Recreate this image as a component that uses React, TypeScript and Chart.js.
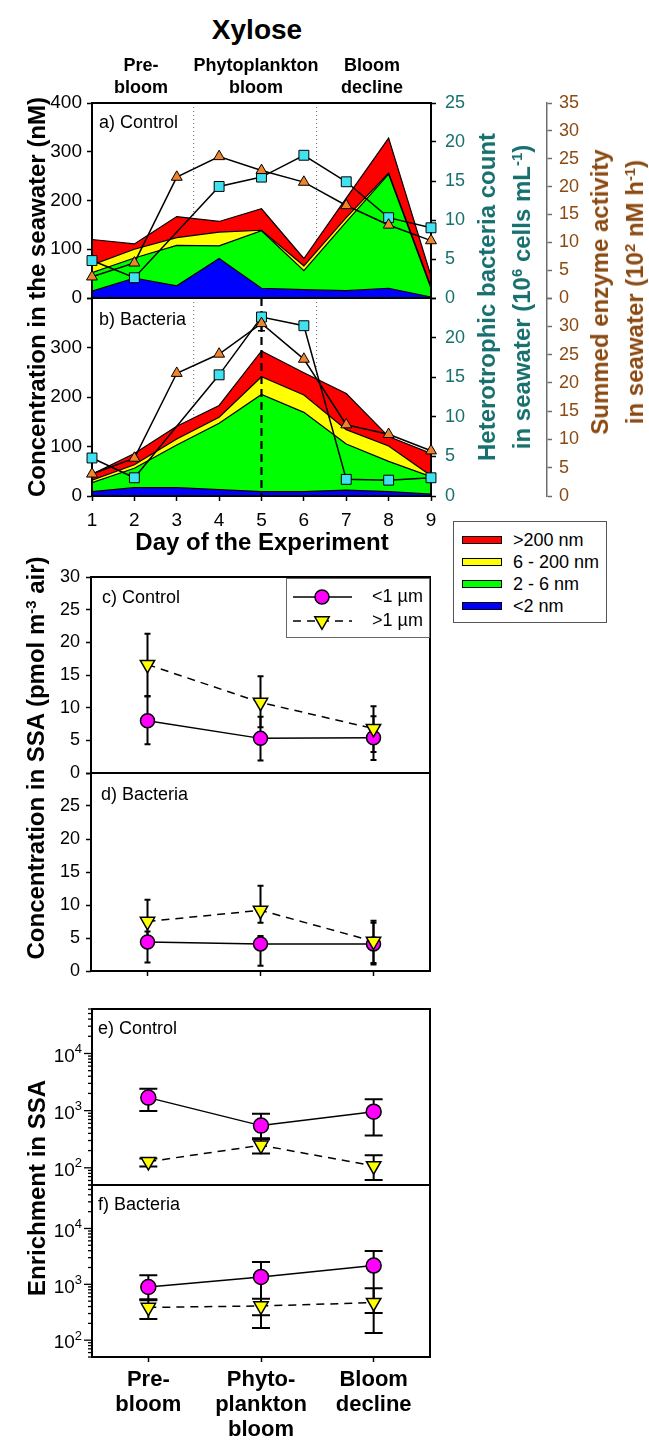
import React, { useEffect, useRef } from 'react';
import { Chart, registerables } from 'chart.js';

Chart.register(...registerables);

const FONT = '"Liberation Sans", Arial, Helvetica, sans-serif';

// ---------------- data: seawater panels (a, b) ----------------
const days = [1, 2, 3, 4, 5, 6, 7, 8, 9];
const phaseBoundaryDays = [3.4, 6.3];
const peakDay = 5;

const ctrlLt2nm = [14, 41, 25, 81, 20, 17, 15, 20, 2];
const ctrl2to6nm = [38, 41, 83, 26, 118, 39, 141, 234, 18];
const ctrl6to200nm = [16, 18, 16, 28, 1, 10, 9, 2, 3];
const ctrlGt200nm = [52, 11, 43, 22, 44, 15, 40, 72, 22];
const ctrlBacteriaCount = [4.8, 2.6, null, 14.3, 15.5, 18.3, 14.9, 10.3, 9.0];
const ctrlEnzymeActivity = [3.8, 6.3, 21.7, 25.4, 22.9, 20.8, 16.6, 13.1, 10.3];

const bactLt2nm = [9, 17, 17, 13, 9, 9, 12, 9, 4];
const bact2to6nm = [18, 39, 86, 134, 196, 160, 93, 61, 35];
const bact6to200nm = [5, 7, 12, 12, 36, 35, 29, 31, 2];
const bactGt200nm = [12, 23, 26, 24, 52, 45, 73, 19, 45];
const bactBacteriaCount = [4.8, 2.3, null, 15.3, 22.6, 21.5, 2.1, 2.0, 2.3];
const bactEnzymeActivity = [3.9, 6.7, 21.7, 25.1, 30.5, 24.2, 12.6, 10.9, 8.0];
const bactEnzymeLow = [null, null, null, null, 29.2, null, null, null, null];
const bactEnzymeHigh = [null, null, null, null, 31.8, null, null, null, null];

const sizeClassLabels = ['>200 nm', '6 - 200 nm', '2 - 6 nm', '<2 nm'];
const sizeClassColors = ['#FF0000', '#FFFF00', '#00FF00', '#0000FF'];

// ---------------- data: SSA panels (c - f) ----------------
const phases = ['Pre-bloom', 'Phytoplankton bloom', 'Bloom decline'];
const phaseTickLabels = [['Pre-', 'bloom'], ['Phyto-', 'plankton', 'bloom'], ['Bloom', 'decline']];
const phaseHeaderLabels = [['Pre-', 'bloom'], ['Phytoplankton', 'bloom'], ['Bloom', 'decline']];
const ssaSeriesLabels = ['<1 µm', '>1 µm'];
const logLabelExponents = [2, 3, 4];

const concCtrlSmall = [8.0, 5.3, 5.4];
const concCtrlSmallLow = [4.4, 1.9, 2.0];
const concCtrlSmallHigh = [11.7, 8.6, 8.7];
const concCtrlLarge = [16.6, 10.8, 6.8];
const concCtrlLargeLow = [11.8, 7.0, 3.2];
const concCtrlLargeHigh = [21.3, 14.8, 10.2];

const concBactSmall = [4.4, 4.1, 4.1];
const concBactSmallLow = [1.3, 0.8, 1.0];
const concBactSmallHigh = [6.0, 5.3, 7.6];
const concBactLarge = [7.5, 9.2, 4.5];
const concBactLargeLow = [4.1, 7.3, 1.2];
const concBactLargeHigh = [10.8, 12.9, 7.3];

const enrCtrlSmall = [1690, 547, 960];
const enrCtrlSmallLow = [990, 330, 366];
const enrCtrlSmallHigh = [2420, 886, 1578];
const enrCtrlLarge = [128, 248, 108];
const enrCtrlLargeLow = [105, 178, 61];
const enrCtrlLargeHigh = [145, 316, 166];

const enrBactSmall = [896, 1355, 2165];
const enrBactSmallLow = [540, 280, 308];
const enrBactSmallHigh = [1450, 2520, 3970];
const enrBactLarge = [386, 410, 470];
const enrBactLargeLow = [240, 165, 135];
const enrBactLargeHigh = [520, 552, 850];

// ---------------- styles ----------------
const CYAN = '#3EE2F0';
const ORANGE = '#F0842A';
const MAGENTA = '#FF00FF';
const YELLOW = '#FFFF00';
const TEAL = '#17706F';
const BROWN = '#8B4A12';
const GREY_AXIS = '#6E6E6E';

const xy = (vals: (number | null)[]) => days.map((d, i) => ({ x: d, y: vals[i] }));

type VLine = { x: number; dash: number[]; color: string; width: number };

function drawFrame(chart: any) {
  const { ctx, chartArea: a } = chart;
  ctx.save();
  ctx.strokeStyle = '#000';
  ctx.lineWidth = 2;
  ctx.setLineDash([]);
  ctx.strokeRect(a.left, a.top, a.right - a.left, a.bottom - a.top);
  ctx.restore();
}

function decoPlugin(bgLines: VLine[], midLines: VLine[], midIndex: number | null) {
  const drawLines = (chart: any, lines: VLine[]) => {
    const { ctx, chartArea: a } = chart;
    const xs = chart.scales.x;
    lines.forEach((l) => {
      const px = xs.getPixelForValue(l.x);
      ctx.save();
      ctx.strokeStyle = l.color;
      ctx.lineWidth = l.width;
      ctx.setLineDash(l.dash);
      ctx.beginPath();
      ctx.moveTo(px, a.top);
      ctx.lineTo(px, a.bottom);
      ctx.stroke();
      ctx.restore();
    });
  };
  return {
    id: 'deco',
    beforeDatasetsDraw(chart: any) {
      drawLines(chart, bgLines);
      if (midIndex === null) {
        drawLines(chart, midLines);
        drawFrame(chart);
      }
    },
    afterDatasetDraw(chart: any, args: any) {
      if (midIndex !== null && args.index === midIndex) {
        drawLines(chart, midLines);
        drawFrame(chart);
      }
    },
  };
}

function errorBarPlugin(capHalf: number, width: number) {
  return {
    id: 'errorBars',
    beforeDatasetsDraw(chart: any) {
      const ctx = chart.ctx;
      chart.data.datasets.forEach((ds: any, i: number) => {
        if (!ds.errLow || !ds.errHigh) return;
        const meta = chart.getDatasetMeta(i);
        const ys = chart.scales[meta.yAxisID];
        ctx.save();
        ctx.strokeStyle = '#000';
        ctx.lineWidth = width;
        ctx.setLineDash([]);
        meta.data.forEach((pt: any, j: number) => {
          const lo = ds.errLow[j];
          const hi = ds.errHigh[j];
          if (lo == null || hi == null) return;
          const x = pt.x;
          const y1 = ys.getPixelForValue(lo);
          const y2 = ys.getPixelForValue(hi);
          ctx.beginPath();
          ctx.moveTo(x, y1);
          ctx.lineTo(x, y2);
          ctx.moveTo(x - capHalf, y1);
          ctx.lineTo(x + capHalf, y1);
          ctx.moveTo(x - capHalf, y2);
          ctx.lineTo(x + capHalf, y2);
          ctx.stroke();
        });
        ctx.restore();
      });
    },
  };
}

const logAxisPlugin = {
  id: 'logAxis',
  afterDraw(chart: any) {
    const { ctx, chartArea: a } = chart;
    const s = chart.scales.y;
    ctx.save();
    ctx.strokeStyle = '#000';
    ctx.lineWidth = 1.3;
    for (let e = 1; e <= 4; e++) {
      for (let m = 1; m <= 9; m++) {
        const v = m * Math.pow(10, e);
        if (v < s.min - 1e-9 || v > s.max + 1e-9) continue;
        const y = s.getPixelForValue(v);
        const len = m === 1 ? 8 : 4;
        ctx.beginPath();
        ctx.moveTo(a.left - len, y);
        ctx.lineTo(a.left, y);
        ctx.stroke();
      }
    }
    ctx.fillStyle = '#000';
    ctx.textBaseline = 'middle';
    logLabelExponents.forEach((e) => {
      const y = s.getPixelForValue(Math.pow(10, e));
      ctx.font = `13px ${FONT}`;
      const ew = ctx.measureText(String(e)).width;
      const xr = a.left - 10;
      ctx.textAlign = 'left';
      ctx.fillText(String(e), xr - ew, y - 4);
      ctx.font = `19px ${FONT}`;
      ctx.textAlign = 'right';
      ctx.fillText('10', xr - ew, y + 3);
    });
    ctx.restore();
  },
};

const ssaLegendPlugin = {
  id: 'ssaLegend',
  afterDraw(chart: any) {
    const { ctx, chartArea: a } = chart;
    const w = 143;
    const h = 59;
    const left = a.right - w - 1;
    const top = a.top + 1;
    ctx.save();
    ctx.fillStyle = '#fff';
    ctx.fillRect(left, top, w, h);
    ctx.strokeStyle = '#666';
    ctx.lineWidth = 1;
    ctx.strokeRect(left + 0.5, top + 0.5, w, h);
    const rows = [
      { ds: chart.data.datasets[1], y: a.top + 20 },
      { ds: chart.data.datasets[0], y: a.top + 44 },
    ];
    rows.forEach(({ ds, y }) => {
      ctx.strokeStyle = '#000';
      ctx.lineWidth = 1.5;
      ctx.setLineDash(ds.borderDash || []);
      ctx.beginPath();
      ctx.moveTo(left + 7, y);
      ctx.lineTo(left + 66, y);
      ctx.stroke();
      ctx.setLineDash([]);
      const cx = left + 36;
      ctx.fillStyle = ds.pointBackgroundColor;
      ctx.beginPath();
      if (ds.pointStyle === 'circle') {
        ctx.arc(cx, y, ds.pointRadius, 0, Math.PI * 2);
      } else {
        const r = ds.pointRadius;
        ctx.moveTo(cx, y + r);
        ctx.lineTo(cx - r * 0.866, y - r / 2);
        ctx.lineTo(cx + r * 0.866, y - r / 2);
        ctx.closePath();
      }
      ctx.fill();
      ctx.lineWidth = 1.5;
      ctx.stroke();
      ctx.fillStyle = '#000';
      ctx.font = `18px ${FONT}`;
      ctx.textAlign = 'left';
      ctx.textBaseline = 'middle';
      ctx.fillText(ds.label, left + 86, y);
    });
    ctx.restore();
  },
};

function seawaterConfig(isB: boolean) {
  const lt2 = isB ? bactLt2nm : ctrlLt2nm;
  const g26 = isB ? bact2to6nm : ctrl2to6nm;
  const g6200 = isB ? bact6to200nm : ctrl6to200nm;
  const gt200 = isB ? bactGt200nm : ctrlGt200nm;
  const bact = isB ? bactBacteriaCount : ctrlBacteriaCount;
  const enz = isB ? bactEnzymeActivity : ctrlEnzymeActivity;

  const area = (label: string, vals: number[], color: string, fill: any) => ({
    label,
    data: xy(vals),
    yAxisID: 'y',
    backgroundColor: color,
    borderColor: '#000',
    borderWidth: 1.2,
    pointRadius: 0,
    fill,
    order: 1,
    tension: 0,
  });

  const tickGrid = (color = '#000') => ({
    drawOnChartArea: false,
    drawTicks: true,
    tickLength: 5,
    tickColor: color,
    tickWidth: 1.5,
  });
  const hideTop = (max: number) => (v: any) => (isB && v === max ? '' : String(v));

  const bg: VLine[] = phaseBoundaryDays.map((d) => ({ x: d, dash: [1, 3], color: '#666', width: 1 }));
  const mid: VLine[] = isB ? [{ x: peakDay, dash: [8, 5], color: '#000', width: 2.2 }] : [];

  return {
    type: 'line',
    data: {
      datasets: [
        {
          label: 'Summed enzyme activity',
          data: xy(enz),
          yAxisID: 'y2',
          borderColor: '#000',
          borderWidth: 1.5,
          pointStyle: 'triangle',
          pointRadius: 6.3,
          pointBackgroundColor: ORANGE,
          pointBorderColor: '#000',
          pointBorderWidth: 1,
          fill: false,
          order: 0,
          spanGaps: true,
          clip: false,
          errLow: isB ? bactEnzymeLow : null,
          errHigh: isB ? bactEnzymeHigh : null,
        },
        {
          label: 'Heterotrophic bacteria count',
          data: xy(bact),
          yAxisID: 'y1',
          borderColor: '#000',
          borderWidth: 1.5,
          pointStyle: 'rect',
          pointRadius: 7,
          pointBackgroundColor: CYAN,
          pointBorderColor: '#000',
          pointBorderWidth: 1,
          fill: false,
          order: 0,
          spanGaps: true,
          clip: false,
        },
        area(sizeClassLabels[3], lt2, sizeClassColors[3], 'origin'),
        area(sizeClassLabels[2], g26, sizeClassColors[2], '-1'),
        area(sizeClassLabels[1], g6200, sizeClassColors[1], '-1'),
        area(sizeClassLabels[0], gt200, sizeClassColors[0], '-1'),
      ],
    },
    options: {
      responsive: false,
      animation: false,
      events: [],
      layout: { padding: { top: 24, bottom: isB ? 0 : 24, left: 0, right: 0 } },
      plugins: { legend: { display: false }, tooltip: { enabled: false } },
      scales: {
        x: {
          type: 'linear',
          min: 1,
          max: 9,
          display: isB,
          ticks: { stepSize: 1, font: { family: FONT, size: 19 }, color: '#000', padding: 8, maxRotation: 0, autoSkip: false },
          grid: tickGrid(),
          border: { display: false },
          afterFit: (s: any) => {
            s.height = isB ? 40 : 0;
          },
        },
        y: {
          stacked: true,
          min: 0,
          max: 400,
          ticks: { stepSize: 100, autoSkip: false, font: { family: FONT, size: 19 }, color: '#000', padding: 5, callback: hideTop(400) },
          grid: tickGrid(),
          border: { display: false },
          afterFit: (s: any) => {
            s.width = 92;
          },
        },
        y1: {
          position: 'right',
          min: 0,
          max: 25,
          ticks: { stepSize: 5, autoSkip: false, font: { family: FONT, size: 18 }, color: TEAL, padding: 9, callback: hideTop(25) },
          grid: tickGrid(),
          border: { display: false },
          afterFit: (s: any) => {
            s.width = 116;
          },
        },
        y2: {
          position: 'right',
          min: 0,
          max: 35,
          ticks: { stepSize: 5, autoSkip: false, font: { family: FONT, size: 18 }, color: BROWN, padding: 7, callback: hideTop(35) },
          grid: tickGrid(GREY_AXIS),
          border: { display: true, color: GREY_AXIS, width: 1.5 },
          afterFit: (s: any) => {
            s.width = 102;
          },
        },
      },
    },
    plugins: [decoPlugin(bg, mid, 2), errorBarPlugin(3.5, 1.5)],
  };
}

function ssaConfig(
  kind: 'conc' | 'enr',
  bottom: boolean,
  small: number[],
  smallLow: number[],
  smallHigh: number[],
  large: number[],
  largeLow: number[],
  largeHigh: number[],
  withLegend: boolean
) {
  const isEnr = kind === 'enr';
  const yScale = isEnr
    ? {
        type: 'logarithmic',
        min: 50,
        max: 60000,
        ticks: { display: false },
        grid: { display: false },
        border: { display: false },
        afterFit: (s: any) => {
          s.width = 92;
        },
      }
    : {
        type: 'linear',
        min: 0,
        max: 30,
        ticks: {
          stepSize: 5,
          autoSkip: false,
          font: { family: FONT, size: 18 },
          color: '#000',
          padding: 6,
          callback: (v: any) => (bottom && v === 30 ? '' : String(v)),
        },
        grid: { drawOnChartArea: false, tickLength: 5, tickColor: '#000', tickWidth: 1.5 },
        border: { display: false },
        afterFit: (s: any) => {
          s.width = 91;
        },
      };

  const plugins: any[] = [decoPlugin([], [], null), errorBarPlugin(isEnr ? 9 : 3, 2)];
  if (isEnr) plugins.push(logAxisPlugin);
  if (withLegend) plugins.push(ssaLegendPlugin);

  return {
    type: 'line',
    data: {
      labels: phases,
      datasets: [
        {
          label: ssaSeriesLabels[1],
          data: large,
          borderColor: '#000',
          borderWidth: 1.5,
          borderDash: [8, 6],
          pointStyle: 'triangle',
          pointRotation: 180,
          pointRadius: 8.3,
          pointBackgroundColor: YELLOW,
          pointBorderColor: '#000',
          pointBorderWidth: 1.5,
          fill: false,
          clip: false,
          errLow: largeLow,
          errHigh: largeHigh,
        },
        {
          label: ssaSeriesLabels[0],
          data: small,
          borderColor: '#000',
          borderWidth: 1.5,
          pointStyle: 'circle',
          pointRadius: isEnr ? 7.5 : 7,
          pointBackgroundColor: MAGENTA,
          pointBorderColor: '#000',
          pointBorderWidth: 1.5,
          fill: false,
          clip: false,
          errLow: smallLow,
          errHigh: smallHigh,
        },
      ],
    },
    options: {
      responsive: false,
      animation: false,
      events: [],
      layout: { padding: { top: 24, bottom: bottom ? 0 : 24, left: 0, right: 219 } },
      plugins: { legend: { display: false }, tooltip: { enabled: false } },
      scales: {
        x: {
          type: 'category',
          offset: true,
          display: bottom,
          grid: { offset: false, drawOnChartArea: false, tickLength: 5, tickColor: '#000', tickWidth: 1.5 },
          border: { display: false },
          ticks: {
            display: isEnr,
            autoSkip: false,
            maxRotation: 0,
            color: '#000',
            padding: 5,
            font: { family: FONT, size: 22, weight: 'bold', lineHeight: 25 / 22 },
            callback: (_v: any, i: number) => phaseTickLabels[i],
          },
          afterFit: (s: any) => {
            s.height = bottom ? (isEnr ? 83 : 30) : 0;
          },
        },
        y: yScale,
      },
    },
    plugins,
  };
}

function ChartBox({ top, height, build }: { top: number; height: number; build: () => any }) {
  const ref = useRef<HTMLCanvasElement | null>(null);
  useEffect(() => {
    if (!ref.current) return;
    const chart = new Chart(ref.current, build());
    return () => chart.destroy();
  }, []);
  return (
    <canvas
      ref={ref}
      width={649}
      height={height}
      style={{ position: 'absolute', left: 0, top, width: 649, height, display: 'block' }}
    />
  );
}

function Txt({ x, y, children, size = 18, bold = false, color = '#000', align = 'center' }: any) {
  return (
    <div
      style={{
        position: 'absolute',
        left: x,
        top: y,
        transform: align === 'center' ? 'translate(-50%,-50%)' : 'translate(0,-50%)',
        fontSize: size,
        fontWeight: bold ? 700 : 400,
        color,
        whiteSpace: 'nowrap',
        lineHeight: `${size}px`,
      }}
    >
      {children}
    </div>
  );
}

function RotTitle({ cx, cy, children, lh = 24, color = '#000' }: any) {
  return (
    <div
      style={{
        position: 'absolute',
        left: cx,
        top: cy,
        transform: 'translate(-50%,-50%) rotate(-90deg)',
        fontSize: 24,
        fontWeight: 700,
        lineHeight: `${lh}px`,
        color,
        textAlign: 'center',
        whiteSpace: 'nowrap',
      }}
    >
      {children}
    </div>
  );
}

const Sup = ({ children }: any) => (
  <span style={{ fontSize: '0.62em', position: 'relative', top: '-0.55em' }}>{children}</span>
);

const headerX = [141, 256, 372];
const legendRowY = [18, 40, 62, 84];

export default function App() {
  return (
    <div
      style={{
        position: 'absolute',
        left: 0,
        top: 0,
        width: 649,
        height: 1440,
        background: '#fff',
        fontFamily: FONT,
        color: '#000',
        overflow: 'hidden',
      }}
    >
      <ChartBox top={79} height={243} build={() => seawaterConfig(false)} />
      <ChartBox top={274} height={262} build={() => seawaterConfig(true)} />
      <ChartBox
        top={553}
        height={244}
        build={() =>
          ssaConfig('conc', false, concCtrlSmall, concCtrlSmallLow, concCtrlSmallHigh, concCtrlLarge, concCtrlLargeLow, concCtrlLargeHigh, true)
        }
      />
      <ChartBox
        top={749}
        height={252}
        build={() =>
          ssaConfig('conc', true, concBactSmall, concBactSmallLow, concBactSmallHigh, concBactLarge, concBactLargeLow, concBactLargeHigh, false)
        }
      />
      <ChartBox
        top={985}
        height={224}
        build={() =>
          ssaConfig('enr', false, enrCtrlSmall, enrCtrlSmallLow, enrCtrlSmallHigh, enrCtrlLarge, enrCtrlLargeLow, enrCtrlLargeHigh, false)
        }
      />
      <ChartBox
        top={1161}
        height={279}
        build={() =>
          ssaConfig('enr', true, enrBactSmall, enrBactSmallLow, enrBactSmallHigh, enrBactLarge, enrBactLargeLow, enrBactLargeHigh, false)
        }
      />

      {/* Title and phase headers */}
      <Txt x={257} y={30} size={28} bold>
        Xylose
      </Txt>
      {phaseHeaderLabels.map((lines, i) => (
        <div
          key={i}
          style={{
            position: 'absolute',
            left: headerX[i],
            top: 54,
            transform: 'translate(-50%,0)',
            fontSize: 18,
            fontWeight: 700,
            lineHeight: '22px',
            textAlign: 'center',
            whiteSpace: 'nowrap',
          }}
        >
          {lines[0]}
          <br />
          {lines[1]}
        </div>
      ))}

      {/* Panel labels */}
      <Txt x={99} y={122} align="left">a) Control</Txt>
      <Txt x={99} y={319} align="left">b) Bacteria</Txt>
      <Txt x={102} y={597} align="left">c) Control</Txt>
      <Txt x={101} y={794} align="left">d) Bacteria</Txt>
      <Txt x={98} y={1028} align="left">e) Control</Txt>
      <Txt x={98} y={1204} align="left">f) Bacteria</Txt>

      <Txt x={262} y={542} size={24} bold>
        Day of the Experiment
      </Txt>

      {/* Axis titles */}
      <RotTitle cx={37} cy={297}>Concentration in the seawater (nM)</RotTitle>
      <RotTitle cx={37} cy={758}>
        Concentration in SSA (pmol m<Sup>-3</Sup> air)
      </RotTitle>
      <RotTitle cx={37} cy={1188}>Enrichment in SSA</RotTitle>
      <RotTitle cx={506} cy={297} lh={35} color={TEAL}>
        Heterotrophic bacteria count
        <br />
        in seawater (10<Sup>6</Sup> cells mL<Sup>-1</Sup>)
      </RotTitle>
      <RotTitle cx={619} cy={292} lh={35} color={BROWN}>
        Summed enzyme activity
        <br />
        in seawater (10<Sup>2</Sup> nM h<Sup>-1</Sup>)
      </RotTitle>

      {/* Size-class legend */}
      <div
        style={{
          position: 'absolute',
          left: 453,
          top: 521,
          width: 154,
          height: 102,
          border: '1px solid #555',
          boxSizing: 'border-box',
          background: '#fff',
        }}
      >
        {sizeClassLabels.map((lab, i) => (
          <React.Fragment key={lab}>
            <div
              style={{
                position: 'absolute',
                left: 8,
                top: legendRowY[i] - 4,
                width: 40,
                height: 8,
                background: sizeClassColors[i],
                border: '1px solid #000',
                boxSizing: 'border-box',
              }}
            />
            <div
              style={{
                position: 'absolute',
                left: 59,
                top: legendRowY[i] - 9,
                fontSize: 18,
                lineHeight: '18px',
                whiteSpace: 'nowrap',
              }}
            >
              {lab}
            </div>
          </React.Fragment>
        ))}
      </div>
    </div>
  );
}
